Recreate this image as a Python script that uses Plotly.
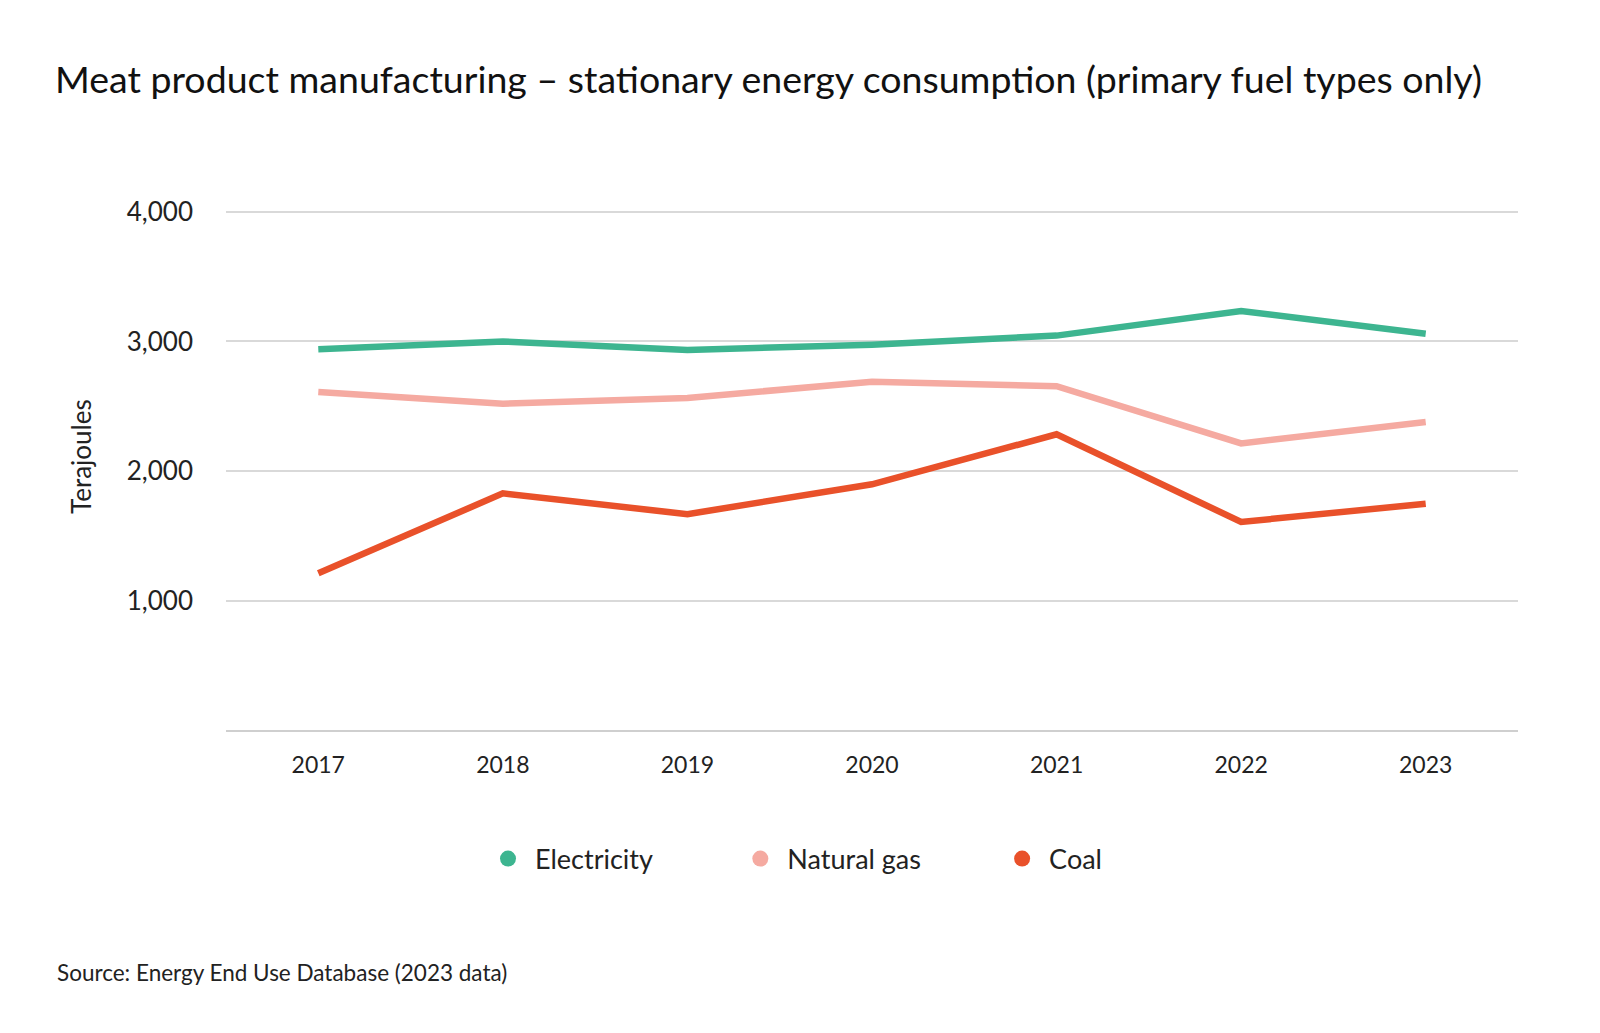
import plotly.graph_objects as go

years = ["2017", "2018", "2019", "2020", "2021", "2022", "2023"]
electricity = [2940, 3000, 2935, 2975, 3045, 3235, 3060]
natural_gas = [2610, 2520, 2565, 2690, 2655, 2215, 2380]
coal = [1215, 1830, 1670, 1900, 2285, 1610, 1750]

series_names = ["Electricity", "Natural gas", "Coal"]
series_colors = ["#3db590", "#f5aaa1", "#e9512a"]
legend_pad = ["           ", "          ", ""]

y_ticks = [1000, 2000, 3000, 4000]
y_tick_labels = ["1,000", "2,000", "3,000", "4,000"]

FONT = "Lato"
W, H = 1600, 1033
L, R, T, B = 218, 90, 201, 310
PW, PH = W - L - R, H - T - B

fig = go.Figure()
for name, vals, col, pad in zip(series_names, [electricity, natural_gas, coal], series_colors, legend_pad):
    fig.add_trace(go.Scatter(x=years, y=vals, mode='lines', name=name,
                             line=dict(color=col, width=6.5),
                             showlegend=False, hoverinfo='x+y'))
    # legend entry only
    fig.add_trace(go.Scatter(x=[None], y=[None], mode='markers', name=name + pad,
                             marker=dict(color=col, size=22)))

fig.update_layout(
    width=W, height=H,
    margin=dict(l=L, r=R, t=T, b=B),
    plot_bgcolor='white', paper_bgcolor='white',
    font=dict(family=FONT, color='#222222'),
    title=dict(text="Meat product manufacturing – stationary energy consumption (primary fuel types only)",
               font=dict(size=37.5, color='#111111'),
               x=47 / W, xanchor='left', xref='container',
               y=1 - 72 / H, yanchor='middle', yref='container'),
    legend=dict(orientation='h', xref='container', yref='container',
                x=786 / W, xanchor='center', y=1 - 851 / H, yanchor='middle',
                font=dict(size=27, color='#222222'), itemsizing='trace', itemwidth=44),
    showlegend=True,
)

fig.update_xaxes(type='category', range=[-0.5, 6.5], showgrid=False,
                 showline=False, ticks='', tickfont=dict(size=23, color='#222222'),
                 ticklabelstandoff=18, zeroline=False)
fig.update_yaxes(range=[0, 4020], tickvals=y_ticks, ticktext=y_tick_labels,
                 showgrid=True, gridcolor='#d9d9d9', gridwidth=2,
                 zeroline=True, zerolinecolor='#cfcfcf', zerolinewidth=2,
                 showline=False, ticks='', tickfont=dict(size=26, color='#222222'),
                 ticklabelstandoff=32)

fig.add_annotation(text="Terajoules", textangle=-90, xref='paper', yref='paper',
                   x=(73 - L) / PW, y=(H - B - 449) / PH,
                   xanchor='center', yanchor='middle', showarrow=False,
                   font=dict(size=26, color='#222222'))
fig.add_annotation(text="Source: Energy End Use Database (2023 data)", xref='paper', yref='paper',
                   x=(47 - L) / PW, y=(H - B - 964) / PH,
                   xanchor='left', yanchor='middle', showarrow=False,
                   font=dict(size=22.5, color='#222222'))

fig.write_html("out.html")
